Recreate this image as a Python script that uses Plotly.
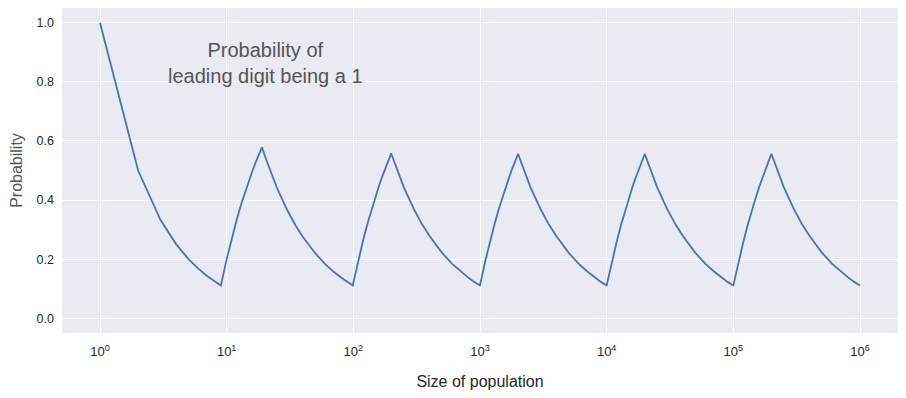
import plotly.graph_objects as go

# Population size (x) and probability of leading digit being 1 (y)
pop_sizes = [1, 2, 3, 4, 5, 6, 7, 8, 9,
             10, 11, 12, 13, 14, 15, 16, 17, 18, 19,
             20, 25, 30, 35, 40, 50, 60, 70, 80, 90, 99,
             100, 110, 120, 130, 140, 150, 160, 170, 180, 190, 199,
             200, 250, 300, 350, 400, 500, 600, 700, 800, 900, 999,
             1000, 1100, 1200, 1300, 1400, 1500, 1600, 1700, 1800, 1900, 1999,
             2000, 2500, 3000, 3500, 4000, 5000, 6000, 7000, 8000, 9000, 9999,
             10000, 11000, 12000, 13000, 14000, 15000, 16000, 17000, 18000, 19000, 19999,
             20000, 25000, 30000, 35000, 40000, 50000, 60000, 70000, 80000, 90000, 99999,
             100000, 110000, 120000, 130000, 140000, 150000, 160000, 170000, 180000, 190000, 199999,
             200000, 250000, 300000, 350000, 400000, 500000, 600000, 700000, 800000, 900000, 1000000]
probability = [1.0, 0.5, 0.333, 0.25, 0.2, 0.167, 0.143, 0.125, 0.111,
               0.2, 0.273, 0.333, 0.385, 0.429, 0.467, 0.5, 0.529, 0.556, 0.579,
               0.55, 0.44, 0.367, 0.314, 0.275, 0.22, 0.183, 0.157, 0.138, 0.122, 0.111,
               0.12, 0.2, 0.267, 0.323, 0.371, 0.413, 0.45, 0.482, 0.511, 0.537, 0.558,
               0.555, 0.444, 0.37, 0.317, 0.278, 0.222, 0.185, 0.159, 0.139, 0.123, 0.111,
               0.112, 0.193, 0.26, 0.317, 0.366, 0.408, 0.445, 0.478, 0.507, 0.533, 0.556,
               0.556, 0.444, 0.37, 0.317, 0.278, 0.222, 0.185, 0.159, 0.139, 0.123, 0.111,
               0.111, 0.192, 0.259, 0.316, 0.365, 0.408, 0.445, 0.477, 0.506, 0.532, 0.556,
               0.556, 0.444, 0.37, 0.317, 0.278, 0.222, 0.185, 0.159, 0.139, 0.123, 0.111,
               0.111, 0.192, 0.259, 0.316, 0.365, 0.407, 0.444, 0.477, 0.506, 0.532, 0.556,
               0.556, 0.444, 0.37, 0.317, 0.278, 0.222, 0.185, 0.159, 0.139, 0.123, 0.111]

x_tick_vals = [1, 10, 100, 1000, 10000, 100000, 1000000]
x_tick_text = ["10<sup>0</sup>", "10<sup>1</sup>", "10<sup>2</sup>", "10<sup>3</sup>",
               "10<sup>4</sup>", "10<sup>5</sup>", "10<sup>6</sup>"]
y_tick_vals = [0.0, 0.2, 0.4, 0.6, 0.8, 1.0]
y_tick_text = ["0.0", "0.2", "0.4", "0.6", "0.8", "1.0"]

fig = go.Figure()
fig.add_trace(go.Scatter(
    x=pop_sizes, y=probability, mode="lines",
    line=dict(color="#4C72B0", width=1.8),
    showlegend=False, hoverinfo="skip",
))

font_family = "Liberation Sans, Arial, sans-serif"

# the page body adds an 8px margin, so the figure is sized to fit inside it
fig.update_layout(
    width=890, height=382,
    margin=dict(l=54, r=0, t=0, b=57),
    paper_bgcolor="white",
    plot_bgcolor="#EAEAF2",
    font=dict(family=font_family, color="#262626"),
    xaxis=dict(
        type="log", range=[-0.3, 6.3], automargin=False,
        tickvals=x_tick_vals, ticktext=x_tick_text,
        showgrid=True, gridcolor="white", gridwidth=1.2,
        zeroline=False, showline=False, ticks="",
        ticklabelstandoff=9,
        tickfont=dict(size=13, color="#262626"),
        title=dict(text="Size of population", font=dict(size=16, color="#262626"), standoff=18),
    ),
    yaxis=dict(
        range=[-0.05, 1.05], automargin=False,
        tickvals=y_tick_vals, ticktext=y_tick_text,
        showgrid=True, gridcolor="white", gridwidth=1.2,
        zeroline=False, showline=False, ticks="",
        ticklabelstandoff=7,
        tickfont=dict(size=12.5, color="#262626"),
        title=dict(text="Probability", font=dict(size=16, color="#555555"), standoff=14),
    ),
    annotations=[dict(
        x=0.243, y=0.83, xref="paper", yref="paper",
        xanchor="center", yanchor="middle",
        text="Probability of<br>leading digit being a 1",
        showarrow=False, align="center",
        font=dict(size=20, color="#555555", family=font_family),
    )],
)

fig.write_html("out.html")
